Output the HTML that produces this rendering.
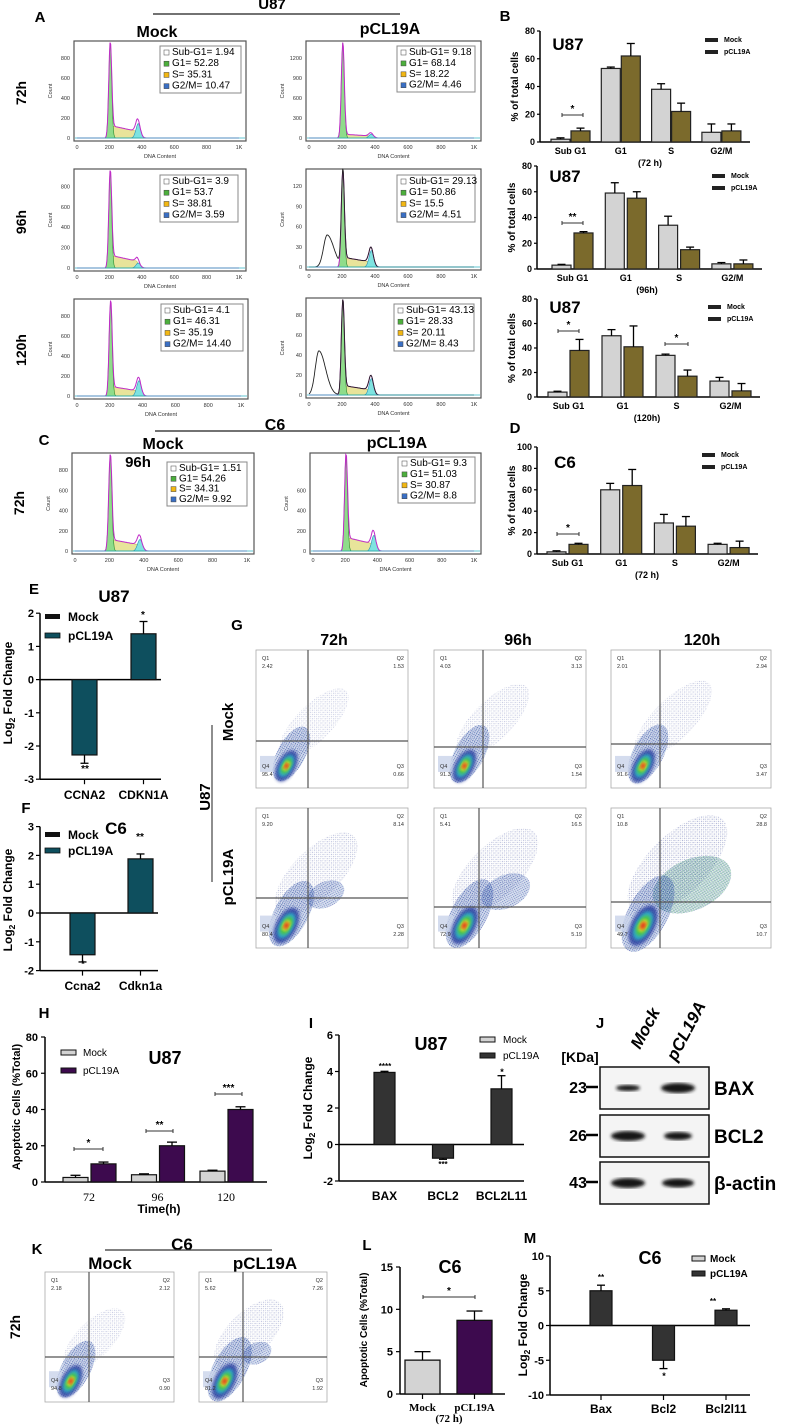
<!DOCTYPE html>
<html><head><meta charset="utf-8"><style>
html,body{margin:0;padding:0;background:#fff;}
svg{display:block;font-family:"Liberation Sans Narrow","Liberation Sans",sans-serif;}
</style></head><body>
<svg id="fig" width="787" height="1425" viewBox="0 0 787 1425" xmlns="http://www.w3.org/2000/svg">
<defs>
<filter id="blur1"><feGaussianBlur stdDeviation="1.6"/></filter>
<filter id="blur2"><feGaussianBlur stdDeviation="3"/></filter>
<pattern id="dots" width="3" height="3" patternUnits="userSpaceOnUse"><circle cx="0.8" cy="0.8" r="0.55" fill="#23308f"/><circle cx="2.2" cy="2.1" r="0.45" fill="#5a6a9a"/></pattern>
<pattern id="dots2" width="2" height="2" patternUnits="userSpaceOnUse"><circle cx="0.7" cy="0.7" r="0.6" fill="#1d2c9a"/><circle cx="1.7" cy="1.6" r="0.4" fill="#2f8fb8"/></pattern>
<pattern id="dotsg" width="2" height="2" patternUnits="userSpaceOnUse"><circle cx="0.7" cy="0.7" r="0.6" fill="#2a9a5a"/><circle cx="1.7" cy="1.6" r="0.5" fill="#2436a0"/></pattern>
</defs>
</svg>
<script>
// ---------- chart data ----------
const bCats = ["Sub G1","G1","S","G2/M"];
const b72Mock = [2, 53, 38, 7];
const b72MockErr = [1, 1, 4, 6];
const b72Pcl = [8, 62, 22, 8];
const b72PclErr = [2, 9, 6, 5];
const b96Mock = [3, 59, 34, 4];
const b96MockErr = [0.6, 8, 7, 1];
const b96Pcl = [28, 55, 15, 4];
const b96PclErr = [1, 5, 2, 3];
const b120Mock = [4, 50, 34, 13];
const b120MockErr = [0.7, 5, 1, 3];
const b120Pcl = [38, 41, 17, 5];
const b120PclErr = [9, 17, 5, 6];
const dMock = [2, 60, 29, 9];
const dMockErr = [1, 6, 8, 1];
const dPcl = [9, 64, 26, 6];
const dPclErr = [1, 15, 9, 6];
const bTicks = [0, 20, 40, 60, 80];
const dTicks = [0, 20, 40, 60, 80, 100];

const eCats = ["CCNA2","CDKN1A"];
const eVals = [-2.27, 1.38];
const eErrs = [0.25, 0.37];
const eTicks = [-3, -2, -1, 0, 1, 2];
const fCats = ["Ccna2","Cdkn1a"];
const fVals = [-1.45, 1.88];
const fErrs = [0.25, 0.17];
const fTicks = [-2, -1, 0, 1, 2, 3];

const hCats = ["72","96","120"];
const hMock = [2.5, 4, 6];
const hMockErr = [1.2, 0.5, 0.5];
const hPcl = [10, 20, 40];
const hPclErr = [1, 2, 1.5];
const hTicks = [0, 20, 40, 60, 80];

const iCats = ["BAX","BCL2","BCL2L11"];
const iVals = [3.95, -0.75, 3.05];
const iErrs = [0.06, 0.06, 0.72];
const iTicks = [-2, 0, 2, 4, 6];

const lCats = ["Mock","pCL19A"];
const lVals = [4, 8.7];
const lErrs = [1, 1.1];
const lTicks = [0, 5, 10, 15];

const mCats = ["Bax","Bcl2","Bcl2l11"];
const mVals = [5, -5, 2.2];
const mErrs = [0.8, 1.2, 0.2];
const mTicks = [-10, -5, 0, 5, 10];

// histogram legend values: [SubG1, G1, S, G2/M]
const histLegend = [
  ["1.94","52.28","35.31","10.47"],["9.18","68.14","18.22","4.46"],
  ["3.9","53.7","38.81","3.59"],["29.13","50.86","15.5","4.51"],
  ["4.1","46.31","35.19","14.40"],["43.13","28.33","20.11","8.43"],
  ["1.51","54.26","34.31","9.92"],["9.3","51.03","30.87","8.8"]];
// histogram peak sizes (fraction of panel): [subG1 hump, subG1 centre, G2 peak, S plateau]
const histShape = [[0,0,.15,.13],[0,0,.04,.04],[0,0,.05,.13],[.33,110,.17,.1],[0,0,.16,.1],[.46,60,.17,.1],[0,0,.12,.12],[0,0,.16,.14]];
const histYTicks = [["0","200","400","600","800"],["0","300","600","900","1200"],["0","200","400","600","800"],["0","30","60","90","120"],["0","200","400","600","800"],["0","20","40","60","80"],["0","200","400","600","800"],["0","200","400","600"]];
// flow quadrant percentages [Q1,Q2,Q3,Q4]
const flowQ = [["2.42","1.53","0.66","95.4"],["4.03","3.13","1.54","91.3"],["2.01","2.94","3.47","91.6"],
  ["9.20","8.14","2.28","80.4"],["5.41","16.5","5.19","72.9"],["10.8","28.8","10.7","49.7"],
  ["2.18","2.12","0.90","94.8"],["5.62","7.26","1.92","81.2"]];

// ---------- helpers ----------
const NS = "http://www.w3.org/2000/svg";
const svg = document.getElementById("fig");
function el(tag, a, name, parent) {
  const e = document.createElementNS(NS, tag);
  for (const k in a) e.setAttribute(k, a[k]);
  
  
  (parent || svg).appendChild(e);
  return e;
}
function T(x, y, s, size, o, name) {
  o = o || {};
  const a = {x: x, y: y, "font-size": size, fill: o.fill || "#000", "text-anchor": o.anchor || "middle"};
  if (o.weight) a["font-weight"] = o.weight;
  if (o.family) a["font-family"] = o.family;
  if (o.style) a["font-style"] = o.style;
  if (o.rot !== undefined) a.transform = "rotate(" + o.rot + " " + x + " " + y + ")";
  const e = el("text", a, name);
  e.textContent = s;
  return e;
}
function L(x1, y1, x2, y2, w, name, c) {
  return el("line", {x1: x1, y1: y1, x2: x2, y2: y2, stroke: c || "#000", "stroke-width": w}, name);
}
function R(x, y, w, h, fill, name, stroke, sw) {
  const a = {x: x, y: y, width: w, height: h, fill: fill};
  if (stroke) { a.stroke = stroke; a["stroke-width"] = sw || 1; }
  return el("rect", a, name);
}
function errBar(x, yv, ye, w, name) {
  L(x, yv, x, ye, 1.3, name);
  L(x - w, ye, x + w, ye, 1.3, name + "-cap");
}
function logTitle(x, y, size, name) {
  const t = el("text", {x: x, y: y, "font-size": size, "font-weight": "bold", "text-anchor": "middle", "font-family": "Liberation Sans, sans-serif", transform: "rotate(-90 " + x + " " + y + ")"}, name);
  t.innerHTML = 'Log<tspan font-size="' + (size * 0.7) + '" dy="3">2</tspan><tspan dy="-3"> Fold Change</tspan>';
}

// ---------- panel letters / titles ----------
const cond = {family: "Liberation Sans Narrow, Liberation Sans, sans-serif", weight: "bold"};
T(40, 22, "A", 15, cond, "panel-label-a");
T(272, 9, "U87", 15, cond, "u87-title");
L(153, 14, 400, 14, 1.5, "u87-title-line", "#444");
T(157, 37, "Mock", 16, cond, "mock-header");
T(390, 34, "pCL19A", 16, cond, "pcl19a-header");
T(505, 21, "B", 15, cond, "panel-label-b");
T(44, 445, "C", 15, cond, "panel-label-c");
T(275, 430, "C6", 16, cond, "c6-title");
L(155, 431, 400, 431, 1.5, "c6-title-line", "#444");
T(163, 449, "Mock", 16, cond, "c6-mock-header");
T(397, 448, "pCL19A", 16, cond, "c6-pcl19a-header");
T(515, 433, "D", 15, cond, "panel-label-d");
[["72h", 93], ["96h", 222], ["120h", 350]].forEach(r => {
  T(26, r[1], r[0], 14, {weight: "bold", rot: -90, family: "Liberation Sans, sans-serif"}, "row-label-" + r[0]);
});
T(24, 503, "72h", 14, {weight: "bold", rot: -90, family: "Liberation Sans, sans-serif"}, "c6-row-label-72h");

// ---------- histograms ----------
const histBoxes = [[74,41,172,100],[306,41,175,100],[74,169,172,102],[306,169,175,101],[74,299,174,100],[306,298,175,100],[72,453,182,101],[310,453,171,101]];
function gauss(v, c, s) { return Math.exp(-Math.pow((v - c) / s, 2) / 2); }
histBoxes.forEach((b, k) => {
  const [x0, y0, w, h] = b;
  const sh = histShape[k];
  R(x0, y0, w, h, "#fff", "histogram-frame", "#555", 1.2);
  const xs = v => x0 + 3 + v / 1000 * (w - 10);
  const base = y0 + h - 3;
  const H = h - 4;
  const comp = {g1: [], s: [], g2: [], sub: [], tot: []};
  for (let v = 0; v <= 1000; v += 4) {
    const g1 = gauss(v, 205, 9);
    let s = 0;
    if (v > 205 && v < 390) s = sh[3] * (1 - (v - 205) / 360) * Math.min(1, (v - 205) / 12) * Math.min(1, (390 - v) / 20);
    const g2 = sh[2] * gauss(v, 378, 14);
    let sub = 0;
    if (sh[0] > 0) sub = sh[0] * (v < sh[1] ? gauss(v, sh[1], 22) : gauss(v, sh[1], 40));
    comp.g1.push([v, g1]); comp.s.push([v, s]); comp.g2.push([v, g2]); comp.sub.push([v, sub]);
    comp.tot.push([v, g1 + s + g2]);
  }
  const area = arr => "M" + xs(0) + "," + base + arr.map(p => "L" + xs(p[0]).toFixed(1) + "," + (base - p[1] * H).toFixed(1)).join("") + "L" + xs(1000) + "," + base + "Z";
  const line = arr => "M" + arr.map(p => xs(p[0]).toFixed(1) + "," + (base - p[1] * H).toFixed(1)).join("L");
  el("path", {d: area(comp.s), fill: "#e8e49a", stroke: "#b9a83a", "stroke-width": .5}, "s-phase-area");
  el("path", {d: area(comp.g2), fill: "#7fe3e0", stroke: "#2a8fb5", "stroke-width": .6}, "g2m-area");
  el("path", {d: area(comp.g1), fill: "#8fdc8a", stroke: "#2d8a2d", "stroke-width": .6}, "g1-area");
  el("path", {d: line(comp.tot), fill: "none", stroke: "#c02bc8", "stroke-width": 1}, "fit-line");
  if (sh[0] > 0) el("path", {d: line(comp.sub.map((p, i) => [p[0], p[1] + comp.tot[i][1]])), fill: "none", stroke: "#222", "stroke-width": .9}, "sub-g1-line");
  L(x0 + 1, base, x0 + w - 1, base, .8, "baseline", "#2bb0c0");
  ["0","200","400","600","800","1K"].forEach((t, i) => {
    T(xs(i * 200), y0 + h + 8, t, 5.5, {fill: "#333"}, "x-tick-label");
  });
  T(x0 + w / 2, y0 + h + 17, "DNA Content", 5.5, {fill: "#333"}, "x-axis-title");
  histYTicks[k].forEach((t, i) => {
    T(x0 - 4, base - i * (h * 0.2) + 2, t, 5.5, {anchor: "end", fill: "#333"}, "y-tick-label");
  });
  T(x0 - 22, y0 + h / 2, "Count", 5.5, {rot: -90, fill: "#333"}, "y-axis-title");
});
const legBoxes = [[160,46,81,47],[397,46,78,46],[160,175,78,47],[397,175,78,47],[161,304,82,47],[394,304,80,47],[167,462,80,44],[398,457,77,46]];
const legCols = ["#fff","#4caf3c","#f2b713","#3a6fc4"];
const legNames = ["Sub-G1= ","G1= ","S= ","G2/M= "];
legBoxes.forEach((b, k) => {
  const [x, y, w, h] = b;
  R(x, y, w, h, "#fff", "histogram-legend", "#888", 1);
  for (let i = 0; i < 4; i++) {
    const yy = y + 9 + i * (h - 10) / 3.3;
    R(x + 4, yy - 5, 5, 5, legCols[i], "legend-swatch", "#444", .5);
    T(x + 12, yy, legNames[i] + histLegend[k][i], 10, {anchor: "start"}, "legend-entry");
  }
});
T(138, 467, "96h", 15, cond, "c6-96h-label");

// ---------- grouped bar charts B / D ----------
function grouped(o, mock, mockErr, pcl, pclErr, ticks, nm) {
  const yAt = v => o.y0 - v * (o.y0 - o.yTop) / o.vmax;
  L(o.ax, o.yTop, o.ax, o.y0, 1.5, nm + "-y-axis");
  L(o.ax, o.y0, o.xEnd, o.y0, 1.5, nm + "-x-axis");
  ticks.forEach(t => {
    L(o.ax - 3, yAt(t), o.ax, yAt(t), 1.2, nm + "-y-tick");
    T(o.ax - 5, yAt(t) + 3, String(t), 9, {anchor: "end", weight: "bold"}, nm + "-y-tick-label");
  });
  bCats.forEach((c, i) => {
    const xm = o.start + i * o.pitch, xp = xm + o.off;
    R(xm, yAt(mock[i]), o.bw, o.y0 - yAt(mock[i]), "#d3d3d3", nm + "-bar-mock-" + i, "#222", 1.2);
    errBar(xm + o.bw / 2, yAt(mock[i]), yAt(mock[i] + mockErr[i]), 4, nm + "-err-mock");
    R(xp, yAt(pcl[i]), o.bw, o.y0 - yAt(pcl[i]), "#7b6a2c", nm + "-bar-pcl-" + i, "#222", 1.2);
    errBar(xp + o.bw / 2, yAt(pcl[i]), yAt(pcl[i] + pclErr[i]), 4, nm + "-err-pcl");
    T((xm + xp + o.bw) / 2, o.y0 + 12, c, 9, {weight: "bold"}, nm + "-category-label");
  });
  T(o.ax + 110, o.y0 + 24, o.sub, 9, {weight: "bold"}, nm + "-sub-label");
  T(o.ax - 22, (o.yTop + o.y0) / 2, "% of total cells", 10, {weight: "bold", rot: -90, family: "Liberation Sans, sans-serif"}, nm + "-y-axis-title");
  T(o.ax + 28, o.titleY, o.title, 17, cond, nm + "-title");
  R(o.legX, o.legY - 4, 13, 4, "#222", nm + "-legend-swatch-mock");
  T(o.legX + 19, o.legY, "Mock", 7, {anchor: "start", weight: "bold"}, nm + "-legend-mock");
  R(o.legX, o.legY + 8, 13, 4, "#222", nm + "-legend-swatch-pcl");
  T(o.legX + 19, o.legY + 12, "pCL19A", 7, {anchor: "start", weight: "bold"}, nm + "-legend-pcl");
  return yAt;
}
const yB1 = grouped({ax: 540, yTop: 31, y0: 142, vmax: 80, xEnd: 750, start: 551, pitch: 50.3, off: 20, bw: 19, sub: "(72 h)", title: "U87", titleY: 50, legX: 705, legY: 42}, b72Mock, b72MockErr, b72Pcl, b72PclErr, bTicks, "b72");
const yB2 = grouped({ax: 537, yTop: 166, y0: 269, vmax: 80, xEnd: 762, start: 552, pitch: 53.3, off: 22, bw: 19, sub: "(96h)", title: "U87", titleY: 182, legX: 712, legY: 178}, b96Mock, b96MockErr, b96Pcl, b96PclErr, bTicks, "b96");
const yB3 = grouped({ax: 537, yTop: 299, y0: 397, vmax: 80, xEnd: 760, start: 548, pitch: 54, off: 22, bw: 19, sub: "(120h)", title: "U87", titleY: 313, legX: 708, legY: 309}, b120Mock, b120MockErr, b120Pcl, b120PclErr, bTicks, "b120");
const yD = grouped({ax: 537, yTop: 447, y0: 554, vmax: 100, xEnd: 758, start: 547, pitch: 53.7, off: 22, bw: 19, sub: "(72 h)", title: "C6", titleY: 468, legX: 702, legY: 457}, dMock, dMockErr, dPcl, dPclErr, dTicks, "d72");
function sig(x1, x2, y, s, nm) {
  L(x1, y, x2, y, 1, nm + "-bracket", "#333");
  L(x1, y - 2, x1, y + 2, 1, nm + "-bracket-end", "#333");
  L(x2, y - 2, x2, y + 2, 1, nm + "-bracket-end", "#333");
  T((x1 + x2) / 2, y - 3, s, 10, {weight: "bold"}, nm + "-star");
}
sig(562, 583, 115, "*", "b72-sig-subg1");
sig(562, 583, 223, "**", "b96-sig-subg1");
sig(558, 579, 331, "*", "b120-sig-subg1");
sig(665, 688, 344, "*", "b120-sig-s");
sig(557, 579, 534, "*", "d72-sig-subg1");

// ---------- E / F ----------
function foldChart(o, cats, vals, errs, ticks, color, nm) {
  const yAt = v => o.yZero - v * o.unit;
  L(o.ax, yAt(ticks[ticks.length - 1]), o.ax, yAt(ticks[0]), 1.5, nm + "-y-axis");
  ticks.forEach(t => {
    L(o.ax - 4, yAt(t), o.ax, yAt(t), 1.2, nm + "-y-tick");
    T(o.ax - 6, yAt(t) + 4, String(t), o.tickSize || 11, {anchor: "end", weight: "bold"}, nm + "-y-tick-label");
  });
  L(o.ax, yAt(0), o.xEnd, yAt(0), 1.5, nm + "-zero-line");
  if (o.bottomAxis) L(o.ax, yAt(ticks[0]), o.xEnd, yAt(ticks[0]), 1.5, nm + "-x-axis");
  cats.forEach((c, i) => {
    const x = o.start + i * o.pitch;
    const v = vals[i];
    const top = Math.min(yAt(v), yAt(0)), hh = Math.abs(yAt(v) - yAt(0));
    R(x, top, o.bw, hh, color, nm + "-bar-" + c, "#111", 1.2);
    errBar(x + o.bw / 2, yAt(v), yAt(v + Math.sign(v) * errs[i]), 4, nm + "-err-" + c);
    if (o.catTicks) L(x + o.bw / 2, yAt(ticks[0]), x + o.bw / 2, yAt(ticks[0]) + 5, 1.2, nm + "-x-tick");
    T(x + o.bw / 2, o.labY, c, o.labSize || 12, {weight: "bold", family: o.labFamily}, nm + "-category-label");
  });
  return yAt;
}
T(34, 594, "E", 15, cond, "panel-label-e");
T(114, 602, "U87", 17, cond, "e-title");
const yE = foldChart({ax: 40, yZero: 679.6, unit: 33.2, xEnd: 161, start: 72, pitch: 59, bw: 25, labY: 799, catTicks: true}, eCats, eVals, eErrs, eTicks, "#0e4f5e", "e");
L(40, yE(-3), 161, yE(-3), 1.5, "e-x-axis");
logTitle(12, 693, 12, "e-y-axis-title");
T(85, 772, "**", 10, {weight: "bold"}, "e-star-ccna2");
T(143, 618, "*", 10, {weight: "bold"}, "e-star-cdkn1a");
R(45, 614, 15, 5, "#111", "e-legend-swatch-mock");
T(68, 621, "Mock", 12, {anchor: "start", weight: "bold"}, "e-legend-mock");
R(45, 633, 15, 5, "#0e4f5e", "e-legend-swatch-pcl", "#111", .8);
T(68, 640, "pCL19A", 12, {anchor: "start", weight: "bold"}, "e-legend-pcl");

T(26, 813, "F", 15, cond, "panel-label-f");
T(116, 834, "C6", 17, cond, "f-title");
const yF = foldChart({ax: 40, yZero: 913, unit: 28.8, xEnd: 158, start: 70, pitch: 58, bw: 25, labY: 990, catTicks: true}, fCats, fVals, fErrs, fTicks, "#0e4f5e", "f");
L(40, yF(-2), 158, yF(-2), 1.5, "f-x-axis");
logTitle(12, 900, 12, "f-y-axis-title");
T(140, 840, "**", 10, {weight: "bold"}, "f-star-cdkn1a");
T(83, 967, "*", 9, {weight: "bold"}, "f-star-ccna2");
R(45, 832, 15, 5, "#111", "f-legend-swatch-mock");
T(68, 839, "Mock", 12, {anchor: "start", weight: "bold"}, "f-legend-mock");
R(45, 848, 15, 5, "#0e4f5e", "f-legend-swatch-pcl", "#111", .8);
T(68, 855, "pCL19A", 12, {anchor: "start", weight: "bold"}, "f-legend-pcl");

// ---------- flow plots ----------
function flow(x, y, w, h, vx, hy, q, kind, nm) {
  R(x, y, w, h, "#fff", nm + "-frame", "#aaa", .8);
  const g = el("g", {}, nm + "-cloud");
  const cx = x + w * 0.2, cy = y + h * 0.84;
  const sp = kind;
  const rot = "rotate(-45 " + (x + w * 0.4) + " " + (y + h * 0.55) + ")";
  // sparse scatter toward upper right
  el("ellipse", {cx: x + w * (0.4 + sp * 0.05), cy: y + h * (0.52 - sp * 0.03), rx: w * (0.3 + sp * 0.05), ry: h * (0.13 + sp * 0.04), fill: "url(#dots)", opacity: 0.35 + sp * 0.1, transform: rot}, nm + "-scatter", g);
  if (sp >= 0.8) el("ellipse", {cx: x + w * (0.38 + sp * 0.07), cy: y + h * (0.66 - sp * 0.04), rx: w * 0.13 * sp, ry: h * 0.09 * sp, fill: sp > 1.5 ? "url(#dotsg)" : "url(#dots2)", opacity: 0.7, transform: "rotate(-25 " + (x + w * 0.45) + " " + (y + h * 0.6) + ")"}, nm + "-scatter-dense", g);
  // dense scatter around main population
  el("ellipse", {cx: cx + 5, cy: cy - 12, rx: 30 + sp * 6, ry: 14 + sp * 3, fill: "url(#dots2)", opacity: 0.8, transform: "rotate(-62 " + (cx + 5) + " " + (cy - 12) + ")"}, nm + "-dense-scatter", g);
  el("rect", {x: x + 4, y: cy - 10, width: w * 0.1, height: 16, fill: "#c9d3ea", opacity: .8}, nm + "-debris", g);
  const layers = [["#2a3fa0", 17, 9, .85], ["#2bb5c9", 12, 6, .9], ["#52c83c", 8.5, 4.5, .95], ["#e8d42a", 5, 3, 1], ["#e0301e", 3, 2, 1]];
  const s = 1 + sp * 0.15;
  layers.forEach(l => {
    el("ellipse", {cx: cx, cy: cy, rx: l[1] * s, ry: l[2] * s, fill: l[0], opacity: l[3], filter: "url(#blur1)", transform: "rotate(-62 " + cx + " " + cy + ")"}, nm + "-density", g);
  });
  L(vx, y, vx, y + h, 1.2, nm + "-vgate", "#555");
  L(x, hy, x + w, hy, 1.2, nm + "-hgate", "#555");
  T(x + 6, y + 10, "Q1", 5.5, {anchor: "start", fill: "#333"}, nm + "-q1");
  T(x + 6, y + 18, q[0], 5.5, {anchor: "start", fill: "#333"}, nm + "-q1-value");
  T(x + w - 4, y + 10, "Q2", 5.5, {anchor: "end", fill: "#333"}, nm + "-q2");
  T(x + w - 4, y + 18, q[1], 5.5, {anchor: "end", fill: "#333"}, nm + "-q2-value");
  T(x + w - 4, y + h - 20, "Q3", 5.5, {anchor: "end", fill: "#333"}, nm + "-q3");
  T(x + w - 4, y + h - 12, q[2], 5.5, {anchor: "end", fill: "#333"}, nm + "-q3-value");
  T(x + 6, y + h - 20, "Q4", 5.5, {anchor: "start", fill: "#333"}, nm + "-q4");
  T(x + 6, y + h - 12, q[3], 5.5, {anchor: "start", fill: "#333"}, nm + "-q4-value");
}
T(237, 630, "G", 15, cond, "panel-label-g");
T(334, 645, "72h", 16, cond, "g-col-72h");
T(518, 645, "96h", 16, cond, "g-col-96h");
T(702, 645, "120h", 16, cond, "g-col-120h");
flow(256, 650, 152, 138, 308, 741, flowQ[0], 0, "g-mock-72h");
flow(434, 650, 152, 138, 483, 747, flowQ[1], 0.3, "g-mock-96h");
flow(611, 650, 160, 138, 660, 744, flowQ[2], 0.4, "g-mock-120h");
flow(256, 808, 152, 140, 308, 898, flowQ[3], 1, "g-pcl-72h");
flow(434, 808, 152, 140, 479, 907, flowQ[4], 1.3, "g-pcl-96h");
flow(611, 808, 160, 140, 660, 902, flowQ[5], 2, "g-pcl-120h");
T(210, 797, "U87", 15, {weight: "bold", rot: -90, family: "Liberation Sans, sans-serif"}, "g-u87-label");
L(212, 725, 212, 882, 1.2, "g-u87-line", "#444");
T(233, 722, "Mock", 15, {weight: "bold", rot: -90, family: "Liberation Sans, sans-serif"}, "g-mock-label");
T(233, 877, "pCL19A", 15, {weight: "bold", rot: -90, family: "Liberation Sans, sans-serif"}, "g-pcl-label");

// ---------- H ----------
T(44, 1018, "H", 15, cond, "panel-label-h");
const yH = v => 1182 - v * (1182 - 1037) / 80;
L(45, 1037, 45, 1182, 1.5, "h-y-axis");
L(45, 1182, 267, 1182, 1.5, "h-x-axis");
hTicks.forEach(t => {
  L(41, yH(t), 45, yH(t), 1.2, "h-y-tick");
  T(38, yH(t) + 4, String(t), 11, {anchor: "end", weight: "bold"}, "h-y-tick-label");
});
hCats.forEach((c, i) => {
  const xm = 63 + i * 68.5, xp = xm + 28;
  R(xm, yH(hMock[i]), 25, 1182 - yH(hMock[i]), "#d3d3d3", "h-bar-mock-" + c, "#111", 1.2);
  errBar(xm + 12.5, yH(hMock[i]), yH(hMock[i] + hMockErr[i]), 5, "h-err-mock");
  R(xp, yH(hPcl[i]), 25, 1182 - yH(hPcl[i]), "#3d0a4e", "h-bar-pcl-" + c, "#111", 1.2);
  errBar(xp + 12.5, yH(hPcl[i]), yH(hPcl[i] + hPclErr[i]), 5, "h-err-pcl");
  T(xm + 26, 1201, c, 12, {family: "Liberation Serif, serif"}, "h-category-label");
});
T(159, 1213, "Time(h)", 12, {weight: "bold"}, "h-x-axis-title");
T(20, 1107, "Apoptotic Cells (%Total)", 11, {weight: "bold", rot: -90, family: "Liberation Sans, sans-serif"}, "h-y-axis-title");
T(165, 1064, "U87", 18, cond, "h-title");
R(61, 1050, 15, 5, "#d3d3d3", "h-legend-swatch-mock", "#111", 1);
T(83, 1056, "Mock", 10, {anchor: "start"}, "h-legend-mock");
R(61, 1068, 15, 5, "#3d0a4e", "h-legend-swatch-pcl", "#111", 1);
T(83, 1074, "pCL19A", 10, {anchor: "start"}, "h-legend-pcl");
sig(74, 103, 1149, "*", "h-sig-72");
sig(146, 173, 1131, "**", "h-sig-96");
sig(215, 242, 1094, "***", "h-sig-120");

// ---------- I ----------
T(311, 1028, "I", 15, cond, "panel-label-i");
const yI = foldChart({ax: 339, yZero: 1144.5, unit: 18.25, xEnd: 524, start: 374, pitch: 58.5, bw: 21, labY: 1200, bottomAxis: true, tickSize: 11, labSize: 12}, iCats, iVals, iErrs, iTicks, "#333", "i");
logTitle(312, 1108, 12, "i-y-axis-title");
T(431, 1050, "U87", 18, cond, "i-title");
R(480, 1037, 15, 5, "#d3d3d3", "i-legend-swatch-mock", "#111", 1);
T(503, 1043, "Mock", 10, {anchor: "start"}, "i-legend-mock");
R(480, 1053, 15, 5, "#333", "i-legend-swatch-pcl", "#111", 1);
T(503, 1059, "pCL19A", 10, {anchor: "start"}, "i-legend-pcl");
T(385, 1069, "****", 8, {weight: "bold"}, "i-star-bax");
T(443, 1167, "***", 8, {weight: "bold"}, "i-star-bcl2");
T(502, 1075, "*", 9, {weight: "bold"}, "i-star-bcl2l11");

// ---------- J (western blot) ----------
T(600, 1028, "J", 15, cond, "panel-label-j");
T(640, 1050, "Mock", 17, {weight: "bold", style: "italic", anchor: "start", rot: -62, family: "Liberation Sans, sans-serif"}, "j-mock-lane");
T(676, 1062, "pCL19A", 17, {weight: "bold", style: "italic", anchor: "start", rot: -62, family: "Liberation Sans, sans-serif"}, "j-pcl-lane");
T(580, 1062, "[KDa]", 14, cond, "j-kda-label");
const blots = [["BAX","23",1067,[[628,12,3],[678,17,5]]],["BCL2","26",1115,[[628,17,5],[678,14,4]]],["β-actin","43",1162,[[628,17,5],[678,16,4.5]]]];
blots.forEach(b => {
  R(600, b[2], 109, 42, "#f4f4f4", "blot-" + b[0], "#111", 1.5);
  b[3].forEach(bd => el("ellipse", {cx: bd[0], cy: b[2] + 21, rx: bd[1], ry: bd[2], fill: "#151515", filter: "url(#blur1)"}, "band-" + b[0]));
  T(714, b[2] + 28, b[0], 19, {anchor: "start", weight: "bold", family: "Liberation Sans Narrow, Liberation Sans, sans-serif"}, "blot-label-" + b[0]);
  T(578, b[2] + 26, b[1], 16, cond, "mw-marker-" + b[1]);
  L(586, b[2] + 20, 598, b[2] + 20, 2.5, "mw-marker-dash");
});

// ---------- K ----------
T(37, 1254, "K", 15, cond, "panel-label-k");
T(182, 1250, "C6", 17, cond, "k-title");
L(105, 1250, 272, 1250, 1.3, "k-title-line", "#333");
T(110, 1269, "Mock", 17, cond, "k-mock-header");
T(265, 1269, "pCL19A", 17, cond, "k-pcl-header");
T(20, 1327, "72h", 14, {weight: "bold", rot: -90, family: "Liberation Sans, sans-serif"}, "k-row-label-72h");
flow(45, 1272, 129, 130, 89, 1357, flowQ[6], 0.2, "k-mock");
flow(199, 1272, 128, 130, 243, 1357, flowQ[7], 0.9, "k-pcl");

// ---------- L ----------
T(367, 1250, "L", 15, cond, "panel-label-l");
const yL = v => 1394 - v * (1394 - 1267) / 15;
L(400, 1267, 400, 1394, 1.5, "l-y-axis");
L(400, 1394, 505, 1394, 1.5, "l-x-axis");
lTicks.forEach(t => {
  L(396, yL(t), 400, yL(t), 1.2, "l-y-tick");
  T(393, yL(t) + 4, String(t), 11, {anchor: "end", weight: "bold"}, "l-y-tick-label");
});
const lCols = ["#d3d3d3", "#3d0a4e"];
lCats.forEach((c, i) => {
  const x = 405 + i * 52;
  R(x, yL(lVals[i]), 35, 1394 - yL(lVals[i]), lCols[i], "l-bar-" + c, "#111", 1.3);
  errBar(x + 17.5, yL(lVals[i]), yL(lVals[i] + lErrs[i]), 8, "l-err-" + c);
  L(x + 17.5, 1394, x + 17.5, 1399, 1.2, "l-x-tick");
  T(x + 17.5, 1411, c, 11, {weight: "bold", family: "Liberation Serif, serif"}, "l-category-label");
});
T(449, 1422, "(72 h)", 11, {weight: "bold", family: "Liberation Serif, serif"}, "l-sub-label");
T(450, 1273, "C6", 18, cond, "l-title");
T(367, 1330, "Apoptotic Cells (%Total)", 10, {weight: "bold", rot: -90, family: "Liberation Sans, sans-serif"}, "l-y-axis-title");
sig(423, 475, 1297, "*", "l-sig");

// ---------- M ----------
T(530, 1243, "M", 15, cond, "panel-label-m");
const yM = foldChart({ax: 550, yZero: 1325.5, unit: 6.95, xEnd: 750, start: 590, pitch: 62.5, bw: 22, labY: 1413, bottomAxis: true, catTicks: true, tickSize: 11}, mCats, mVals, mErrs, mTicks, "#333", "m");
logTitle(527, 1325, 12, "m-y-axis-title");
T(650, 1264, "C6", 18, cond, "m-title");
R(692, 1256, 13, 5, "#d3d3d3", "m-legend-swatch-mock", "#111", 1);
T(710, 1262, "Mock", 10, {anchor: "start", weight: "bold"}, "m-legend-mock");
R(692, 1271, 13, 5, "#333", "m-legend-swatch-pcl", "#111", 1);
T(710, 1277, "pCL19A", 10, {anchor: "start", weight: "bold"}, "m-legend-pcl");
T(601, 1280, "**", 8, {weight: "bold"}, "m-star-bax");
T(664, 1379, "*", 9, {weight: "bold"}, "m-star-bcl2");
T(713, 1304, "**", 8, {weight: "bold"}, "m-star-bcl2l11");
</script>
</body></html>
